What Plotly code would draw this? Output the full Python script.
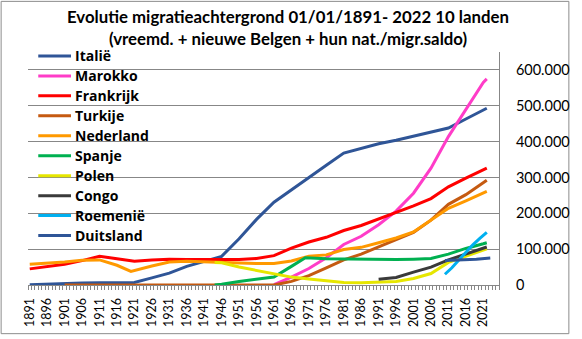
import plotly.graph_objects as go

# Series data: (years, values) per country of origin
italie_years = [1891, 1896, 1901, 1906, 1911, 1916, 1921, 1926, 1931, 1936, 1941, 1946, 1951, 1956, 1961,
                1966, 1971, 1976, 1981, 1986, 1991, 1996, 2001, 2006, 2011, 2016, 2021, 2022]
italie_vals = [1000, 3000, 5000, 5500, 6000, 6500, 7000, 20000, 33000, 52000, 66000, 80000, 129000, 183000, 231000,
               266000, 301000, 334000, 368000, 381000, 394000, 404000, 415000, 426000, 438000, 463000, 488000, 493000]

marokko_years = [1961, 1966, 1971, 1976, 1981, 1986, 1991, 1996, 2001, 2006, 2011, 2016, 2021, 2022]
marokko_vals = [1000, 22000, 46000, 76000, 113000, 136000, 168000, 206000, 256000, 326000, 414000, 491000, 565000, 575000]

frankrijk_years = [1891, 1896, 1901, 1906, 1911, 1916, 1921, 1926, 1931, 1936, 1941, 1946, 1951, 1956, 1961,
                   1966, 1971, 1976, 1981, 1986, 1991, 1996, 2001, 2006, 2011, 2016, 2021, 2022]
frankrijk_vals = [45000, 52000, 58000, 68000, 80000, 73000, 66000, 70000, 72000, 71000, 71000, 71000, 71000, 74000, 82000,
                  103000, 120000, 133000, 152000, 166000, 184000, 203000, 221000, 241000, 274000, 298000, 322000, 326000]

turkije_years = [1901, 1911, 1921, 1931, 1941, 1951, 1961, 1966, 1971, 1976, 1981, 1986, 1991, 1996, 2001,
                 2006, 2011, 2016, 2021, 2022]
turkije_vals = [0, 0, 0, 0, 0, 0, 0, 10000, 26000, 48000, 70000, 86000, 106000, 127000, 147000,
                181000, 225000, 252000, 285000, 292000]

nederland_years = [1891, 1896, 1901, 1906, 1911, 1916, 1920, 1926, 1931, 1936, 1941, 1946, 1951, 1956, 1961,
                   1966, 1971, 1976, 1981, 1986, 1991, 1996, 2001, 2006, 2011, 2016, 2021, 2022]
nederland_vals = [58000, 60000, 64000, 69000, 70000, 55000, 38000, 53000, 64000, 66000, 64000, 62000, 61000, 60000, 60000,
                  67000, 80000, 84000, 99000, 105000, 118000, 131000, 148000, 182000, 214000, 235000, 257000, 261000]

spanje_years = [1944, 1946, 1951, 1956, 1961, 1966, 1970, 1976, 1981, 1986, 1991, 1996, 2001, 2006, 2011, 2016, 2021, 2022]
spanje_vals = [0, 2000, 10000, 16000, 22000, 52000, 76000, 73000, 72000, 71000, 71000, 71000, 72000, 74000, 86000,
               102000, 115000, 118000]

polen_years = [1944, 1946, 1951, 1956, 1961, 1966, 1971, 1976, 1981, 1986, 1991, 1996, 2001, 2006, 2011, 2016, 2021, 2022]
polen_vals = [63000, 62000, 50000, 40000, 30000, 22000, 17000, 13000, 7000, 6000, 7000, 10000, 18000, 32000, 63000,
              80000, 98000, 101000]

congo_years = [1991, 1996, 2001, 2006, 2011, 2016, 2021, 2022]
congo_vals = [16000, 21000, 36000, 50000, 70000, 86000, 102000, 106000]

roemenie_years = [2010, 2012, 2014, 2016, 2018, 2020, 2022]
roemenie_vals = [30000, 48000, 70000, 92000, 112000, 130000, 147000]

duitsland_years = [2010, 2013, 2016, 2019, 2023]
duitsland_vals = [68000, 69000, 70000, 72000, 75000]

series = [
    ("Italië", italie_years, italie_vals, "#2F5597"),
    ("Marokko", marokko_years, marokko_vals, "#FF3CC8"),
    ("Frankrijk", frankrijk_years, frankrijk_vals, "#FF0000"),
    ("Turkije", turkije_years, turkije_vals, "#C55A11"),
    ("Nederland", nederland_years, nederland_vals, "#FF9900"),
    ("Spanje", spanje_years, spanje_vals, "#00B050"),
    ("Polen", polen_years, polen_vals, "#E6E600"),
    ("Congo", congo_years, congo_vals, "#3A3A3A"),
    ("Roemenië", roemenie_years, roemenie_vals, "#00B0F0"),
    ("Duitsland", duitsland_years, duitsland_vals, "#2F5597"),
]

x_tick_years = list(range(1891, 2022, 5))
y_ticks = [0, 100000, 200000, 300000, 400000, 500000, 600000]
y_tick_text = ["0", "100.000", "200.000", "300.000", "400.000", "500.000", "600.000"]

title_line1 = "Evolutie migratieachtergrond 01/01/1891- 2022 10 landen"
title_line2 = "(vreemd. + nieuwe Belgen + hun nat./migr.saldo)"

GRID = "#878787"
FONT = "Lato"
LEGEND_FONT = "Open Sans"

fig = go.Figure()
for name, xs, ys, color in series:
    fig.add_trace(go.Scatter(x=xs, y=ys, mode="lines", name=name,
                             line=dict(color=color, width=3), showlegend=False))

W, H = 582, 339
L, R, T, B = 28, 72, 52, 50
pw, ph = W - L - R, H - T - B


def px_x(p):
    return (p - L) / pw


def px_y(p):
    return (H - B - p) / ph


fig.update_layout(
    width=W, height=H,
    margin=dict(l=L, r=R, t=T, b=B),
    paper_bgcolor="white", plot_bgcolor="white",
    showlegend=False,
    font=dict(family=FONT, color="black"),
)

fig.update_xaxes(
    range=[1890.5, 2025.5],
    tickmode="array", tickvals=x_tick_years, ticktext=[str(y) for y in x_tick_years],
    tickangle=-90, tickfont=dict(family=FONT, size=12.5, color="black"),
    ticks="", ticklabelstandoff=7, showgrid=False, zeroline=False,
    showline=True, linecolor=GRID, linewidth=1,
    minor=dict(tickmode="array", tickvals=[y + 0.5 for y in range(1890, 2026)],
               ticks="outside", ticklen=4, tickcolor=GRID, tickwidth=1, showgrid=False),
)

# invisible ticks push the right-hand labels away from the axis line
fig.update_yaxes(
    range=[0, 650000], side="right",
    tickmode="array", tickvals=y_ticks, ticktext=y_tick_text,
    tickfont=dict(family=FONT, size=14.5, color="black"),
    ticks="outside", ticklen=13, tickcolor="rgba(0,0,0,0)",
    showgrid=True, gridcolor=GRID, gridwidth=1, zeroline=False,
    showline=True, linecolor=GRID, linewidth=1,
)

# legend block in the upper-left corner of the plot area
leg_top, leg_step = 56, 20.3
for i, (name, _, _, color) in enumerate(series):
    yc = leg_top + i * leg_step
    fig.add_shape(type="line", xref="paper", yref="paper",
                  x0=px_x(38.5), x1=px_x(72), y0=px_y(yc), y1=px_y(yc),
                  line=dict(color=color, width=3))
    fig.add_annotation(text=name, xref="paper", yref="paper",
                       x=px_x(75), y=px_y(yc), xanchor="left", yanchor="middle",
                       showarrow=False, borderpad=0,
                       font=dict(family=LEGEND_FONT, size=14, color="black", weight="bold"))

# two-line heading
for txt, ypx in [(title_line1, 16), (title_line2, 38)]:
    fig.add_annotation(text=txt, xref="paper", yref="paper",
                       x=px_x(294), y=px_y(ypx),
                       xanchor="center", yanchor="middle", showarrow=False,
                       font=dict(family=FONT, size=16.8, color="black", weight="bold"))

# chart border
fig.add_shape(type="rect", xref="paper", yref="paper",
              x0=px_x(0.5), x1=px_x(W - 0.5), y0=px_y(H - 0.5), y1=px_y(0.5),
              line=dict(color="#8C8C8C", width=1), fillcolor="rgba(0,0,0,0)", layer="below")

fig.write_html("out.html")
